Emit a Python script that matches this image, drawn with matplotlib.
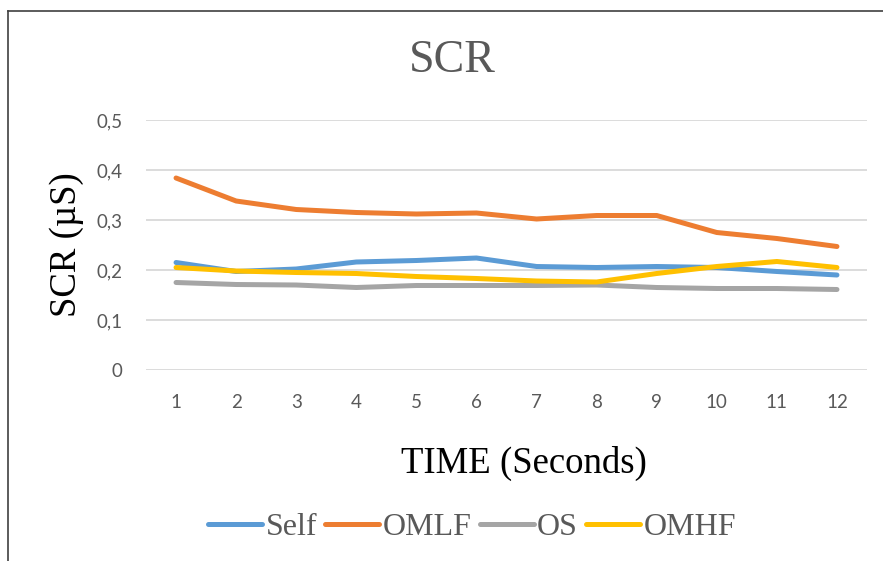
import matplotlib
matplotlib.use("Agg")
import matplotlib.pyplot as plt
from matplotlib.lines import Line2D

# data
time_s = [1, 2, 3, 4, 5, 6, 7, 8, 9, 10, 11, 12]
self_scr = [0.215, 0.197, 0.202, 0.216, 0.219, 0.224, 0.207, 0.205, 0.207, 0.205, 0.197, 0.190]
omlf_scr = [0.384, 0.338, 0.321, 0.315, 0.312, 0.314, 0.302, 0.309, 0.309, 0.275, 0.263, 0.247]
os_scr = [0.175, 0.171, 0.170, 0.165, 0.169, 0.169, 0.169, 0.170, 0.165, 0.163, 0.163, 0.161]
omhf_scr = [0.205, 0.198, 0.195, 0.193, 0.187, 0.183, 0.178, 0.176, 0.193, 0.207, 0.217, 0.205]
yticks = [0, 0.1, 0.2, 0.3, 0.4, 0.5]
ytick_labels = ["0", "0,1", "0,2", "0,3", "0,4", "0,5"]

series = [("Self", self_scr, "#5B9BD5"),
          ("OMLF", omlf_scr, "#ED7D31"),
          ("OS", os_scr, "#A5A5A5"),
          ("OMHF", omhf_scr, "#FFC000")]

serif = "Liberation Serif"
sans = "Lato"
grey_txt = "#595959"

fig = plt.figure(figsize=(8.83, 5.61), dpi=100)
ax = fig.add_axes([146/883, 1-370/561, (867-146)/883, 250/561])

for name, vals, col in series:
    ax.plot(time_s, vals, color=col, lw=3.6, label=name, solid_capstyle="round", solid_joinstyle="round")

ax.set_xlim(0.5, 12.5)
ax.set_ylim(0, 0.5)
ax.set_yticks(yticks)
ax.set_yticklabels(ytick_labels)
ax.set_xticks(time_s)
ax.grid(axis="y", color="#D9D9D9", lw=1.3)
ax.set_axisbelow(True)
for s in ax.spines.values():
    s.set_visible(False)
ax.tick_params(length=0, colors=grey_txt, labelsize=13.5, pad=17)
for lab in ax.get_xticklabels() + ax.get_yticklabels():
    lab.set_family(sans)

fig.text(452/883, 1-61/561, "SCR", ha="center", va="center", family=serif, fontsize=33, color=grey_txt)
fig.text(67/883, 1-245/561, "SCR (µS)", ha="center", va="center", rotation=90, family=serif, fontsize=26.5, color="black")
fig.text(524/883, 1-463/561, "TIME (Seconds)", ha="center", va="center", family=serif, fontsize=26.5, color="black")

leg = fig.legend(loc="center", bbox_to_anchor=(472/883, 1-527/561), ncol=4, frameon=False,
                 prop={"family": serif, "size": 23}, handlelength=1.7, handletextpad=0.1,
                 columnspacing=0.25, labelcolor=grey_txt)

# chart frame (only left and top edges visible)
fig.add_artist(Line2D([8/883, 8/883], [0, 1-11/561], color="#404040", lw=1.2, transform=fig.transFigure))
fig.add_artist(Line2D([8/883, 1], [1-11/561, 1-11/561], color="#404040", lw=1.2, transform=fig.transFigure))

fig.savefig("out.png", dpi=100)
